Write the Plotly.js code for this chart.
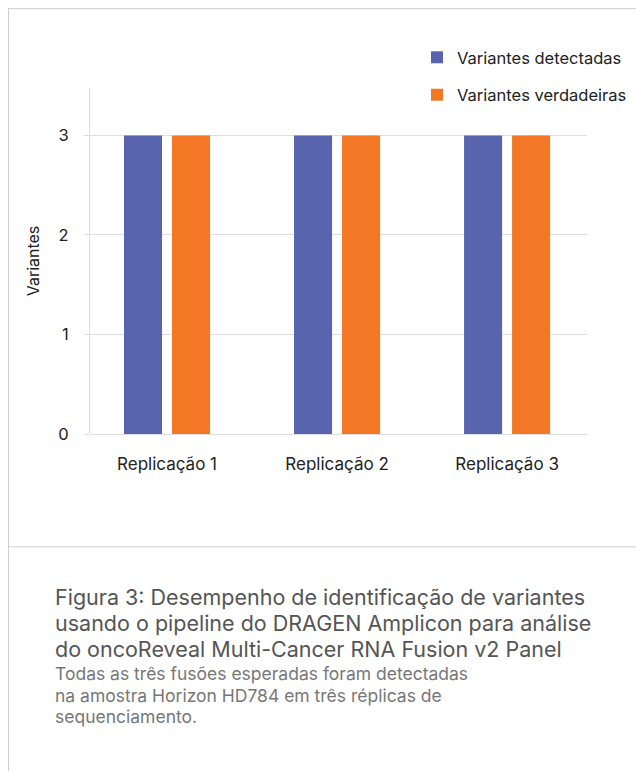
<!DOCTYPE html>
<html>
<head>
<meta charset="utf-8">
<script src="https://cdn.plot.ly/plotly-3.0.1.min.js"></script>
<style>
  html, body { margin: 0; padding: 0; background: #fff; }
  #chart { width: 636px; height: 772px; }
</style>
</head>
<body>
<div id="chart"></div>
<script>
// ---- data ----
const categories = ["Replicação 1", "Replicação 2", "Replicação 3"];
const detectadas = [3, 3, 3];
const verdadeiras = [3, 3, 3];
const seriesNames = ["Variantes detectadas", "Variantes verdadeiras"];
const yTickVals = [0, 1, 2, 3];
const yTitle = "Variantes";
const captionTitle = [
  "Figura 3: Desempenho de identificação de variantes",
  "usando o pipeline do DRAGEN Amplicon para análise",
  "do oncoReveal Multi-Cancer RNA Fusion v2 Panel"
];
const captionBody = [
  "Todas as três fusões esperadas foram detectadas",
  "na amostra Horizon HD784 em três réplicas de",
  "sequenciamento."
];

// ---- geometry helpers (pixel -> paper) ----
const W = 636, H = 772;
const M = { l: 90, r: 49, t: 88, b: 337.5, autoexpand: false };
const PW = W - M.l - M.r, PH = H - M.t - M.b;
const px = x => (x - M.l) / PW;
const py = y => (H - M.b - y) / PH;

const FONT = "Inter, 'Noto Sans', sans-serif";
const GRID = "#dedede";
const BORDER = "#cfcfcf";
const TXT = "#222222";

const traces = [
  { type: "bar", x: categories, y: detectadas, name: seriesNames[0], legendgroup: "a",
    marker: { color: "#5865ae" }, hoverinfo: "skip" },
  { type: "bar", x: categories, y: verdadeiras, name: seriesNames[1], legendgroup: "b",
    marker: { color: "#f47725" }, hoverinfo: "skip" }
];

const annotations = [];
const titleY = [598, 624, 650];
captionTitle.forEach((t, i) => annotations.push({
  xref: "paper", yref: "paper", x: px(53), y: py(titleY[i]), xanchor: "left", yanchor: "middle",
  text: t, showarrow: false, font: { family: FONT, size: 21.5, color: "#555555" }
}));
const bodyY = [674.5, 696, 717.5];
captionBody.forEach((t, i) => annotations.push({
  xref: "paper", yref: "paper", x: px(53), y: py(bodyY[i]), xanchor: "left", yanchor: "middle",
  text: t, showarrow: false, font: { family: FONT, size: 17.5, color: "#777777" }
}));

const shapes = [
  { type: "line", xref: "paper", yref: "paper", x0: px(8.5), x1: px(8.5), y0: py(8), y1: py(772),
    line: { color: BORDER, width: 1 } },
  { type: "line", xref: "paper", yref: "paper", x0: px(8), x1: px(636), y0: py(8.5), y1: py(8.5),
    line: { color: BORDER, width: 1 } },
  { type: "line", xref: "paper", yref: "paper", x0: px(8), x1: px(636), y0: py(547.5), y1: py(547.5),
    line: { color: BORDER, width: 1 } }
];

const layout = {
  width: W, height: H,
  margin: M,
  paper_bgcolor: "#ffffff", plot_bgcolor: "#ffffff",
  font: { family: FONT, size: 16.5, color: TXT },
  barmode: "group",
  bargap: 0.435,
  bargroupgap: 0.208,
  showlegend: true,
  legend: {
    x: px(417), y: py(40), xanchor: "left", yanchor: "top",
    font: { family: FONT, size: 16.5, color: TXT },
    traceorder: "grouped", tracegroupgap: 13,
    bgcolor: "rgba(0,0,0,0)"
  },
  xaxis: {
    type: "category",
    range: [-0.453, 2.47],
    showgrid: false, showline: false, zeroline: false,
    ticks: "", ticklabelstandoff: 18,
    tickfont: { family: FONT, size: 17, color: TXT },
    automargin: false,
    fixedrange: true
  },
  yaxis: {
    range: [0, 3.476],
    tickvals: yTickVals,
    showgrid: true, gridcolor: GRID, gridwidth: 1,
    zeroline: true, zerolinecolor: GRID, zerolinewidth: 1,
    showline: true, linecolor: GRID, linewidth: 1,
    ticks: "outside", ticklen: 5, tickcolor: GRID, tickwidth: 1,
    ticklabelstandoff: 12,
    tickfont: { family: FONT, size: 16.5, color: TXT },
    title: { text: yTitle, font: { family: FONT, size: 16, color: TXT }, standoff: 14 },
    automargin: false,
    fixedrange: true
  },
  annotations: annotations,
  shapes: shapes
};

Plotly.newPlot("chart", traces, layout, { displayModeBar: false, staticPlot: true });
</script>
</body>
</html>
